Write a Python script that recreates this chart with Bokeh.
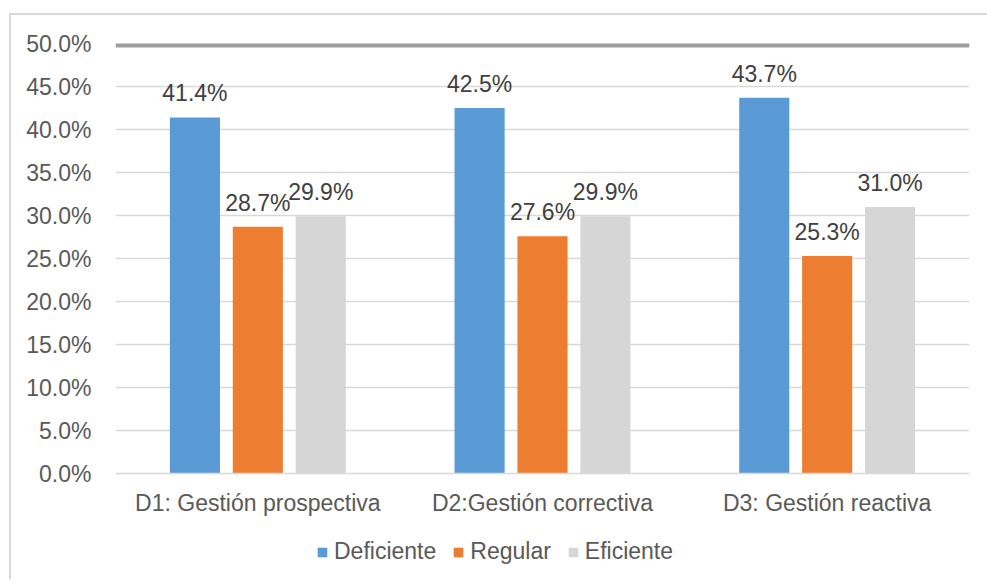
from bokeh.plotting import figure
from bokeh.layouts import column
from bokeh.core.properties import value
from bokeh.models import (FactorRange, Range1d, ColumnDataSource, LabelSet, Legend, LegendItem,
                          FixedTicker, PrintfTickFormatter, Span)
from bokeh.transform import dodge
from bokeh.embed import file_html
from bokeh.resources import INLINE

categories = ["D1: Gestión prospectiva", "D2:Gestión correctiva", "D3: Gestión reactiva"]
series = ["Deficiente", "Regular", "Eficiente"]
deficiente = [41.4, 42.5, 43.7]
regular = [28.7, 27.6, 25.3]
eficiente = [29.9, 29.9, 31.0]
colors = ["#5B9BD5", "#ED7D31", "#D6D6D6"]
y_ticks = [0, 5, 10, 15, 20, 25, 30, 35, 40, 45, 50]

FONT = "Liberation Sans"
FS = "23px"
LEFT, RIGHT = 104, 18
FW = 854

p = figure(x_range=FactorRange(*categories, range_padding=0), y_range=Range1d(0, 50),
           frame_width=FW, frame_height=430, output_backend="svg", toolbar_location=None,
           min_border_left=LEFT, min_border_right=RIGHT, min_border_top=28, min_border_bottom=50)
p.outline_line_color = None
p.background_fill_color = "white"
p.border_fill_color = "white"

src = ColumnDataSource(dict(cat=categories, d=deficiente, r=regular, e=eficiente,
                            dl=[f"{v:.1f}%" for v in deficiente],
                            rl=[f"{v:.1f}%" for v in regular],
                            el=[f"{v:.1f}%" for v in eficiente]))

offs = [-0.221, 0.0, 0.221]
keys = ["d", "r", "e"]
bar_renderers = []
for k, o, c in zip(keys, offs, colors):
    r = p.vbar(x=dodge("cat", o, range=p.x_range), top=k, width=0.176, source=src,
               fill_color=c, line_color=None)
    bar_renderers.append(r)
    lab = LabelSet(x=dodge("cat", o, range=p.x_range), y=k, text=k + "l", source=src,
                   text_align="center", text_baseline="bottom", y_offset=11,
                   text_font=value(FONT), text_font_size=value(FS), text_color="#404040")
    p.add_layout(lab)

# top shadow band
p.add_layout(Span(location=50, dimension="width", line_color="#9e9e9e", line_width=8))

p.yaxis.ticker = FixedTicker(ticks=y_ticks)
p.yaxis.formatter = PrintfTickFormatter(format="%.1f%%")
p.yaxis.axis_line_color = None
p.yaxis.major_tick_line_color = None
p.yaxis.minor_tick_line_color = None
p.yaxis.major_label_standoff = 18
p.yaxis.major_label_text_font = FONT
p.yaxis.major_label_text_font_size = FS
p.yaxis.major_label_text_color = "#595959"

p.xaxis.axis_line_color = "#d9d9d9"
p.xaxis.axis_line_width = 1.5
p.xaxis.major_tick_line_color = None
p.xaxis.minor_tick_line_color = None
p.xaxis.major_label_standoff = 10
p.xaxis.major_label_text_font = FONT
p.xaxis.major_label_text_font_size = FS
p.xaxis.major_label_text_color = "#595959"

p.xgrid.grid_line_color = None
p.ygrid.grid_line_color = "#d9d9d9"
p.ygrid.grid_line_width = 1.5
p.ygrid.ticker = FixedTicker(ticks=y_ticks)

# legend strip (separate small figure; its legend items point at the chart's own bar renderers)
p2 = figure(width=LEFT + FW + RIGHT, height=56, output_backend="svg", toolbar_location=None,
            x_range=Range1d(0, 1), y_range=Range1d(0, 1), x_axis_type=None, y_axis_type=None,
            min_border=0)
p2.outline_line_color = None
p2.grid.grid_line_color = None
p2.background_fill_color = "white"
p2.border_fill_color = "white"
legend_src = ColumnDataSource(dict(x=[-10], top=[-10]))
swatches = [p2.vbar(x="x", top="top", width=0.1, source=legend_src, fill_color=c, line_color=None)
            for c in colors]

legend = Legend(items=[LegendItem(label=s, renderers=[r]) for s, r in zip(series, swatches)],
                orientation="horizontal", location=(201, 14), border_line_color=None,
                background_fill_alpha=0, glyph_width=12, glyph_height=12, label_standoff=6,
                spacing=16, label_text_font=FONT, label_text_font_size=FS,
                label_text_color="#595959", margin=0, padding=0)
p2.add_layout(legend)

lay = column(p, p2, spacing=0,
             styles={"border-top": "2px solid #d9d9d9", "border-left": "2px solid #d9d9d9",
                     "margin-left": "9px", "margin-top": "13px"})

open("out.html", "w").write(file_html(lay, INLINE))
